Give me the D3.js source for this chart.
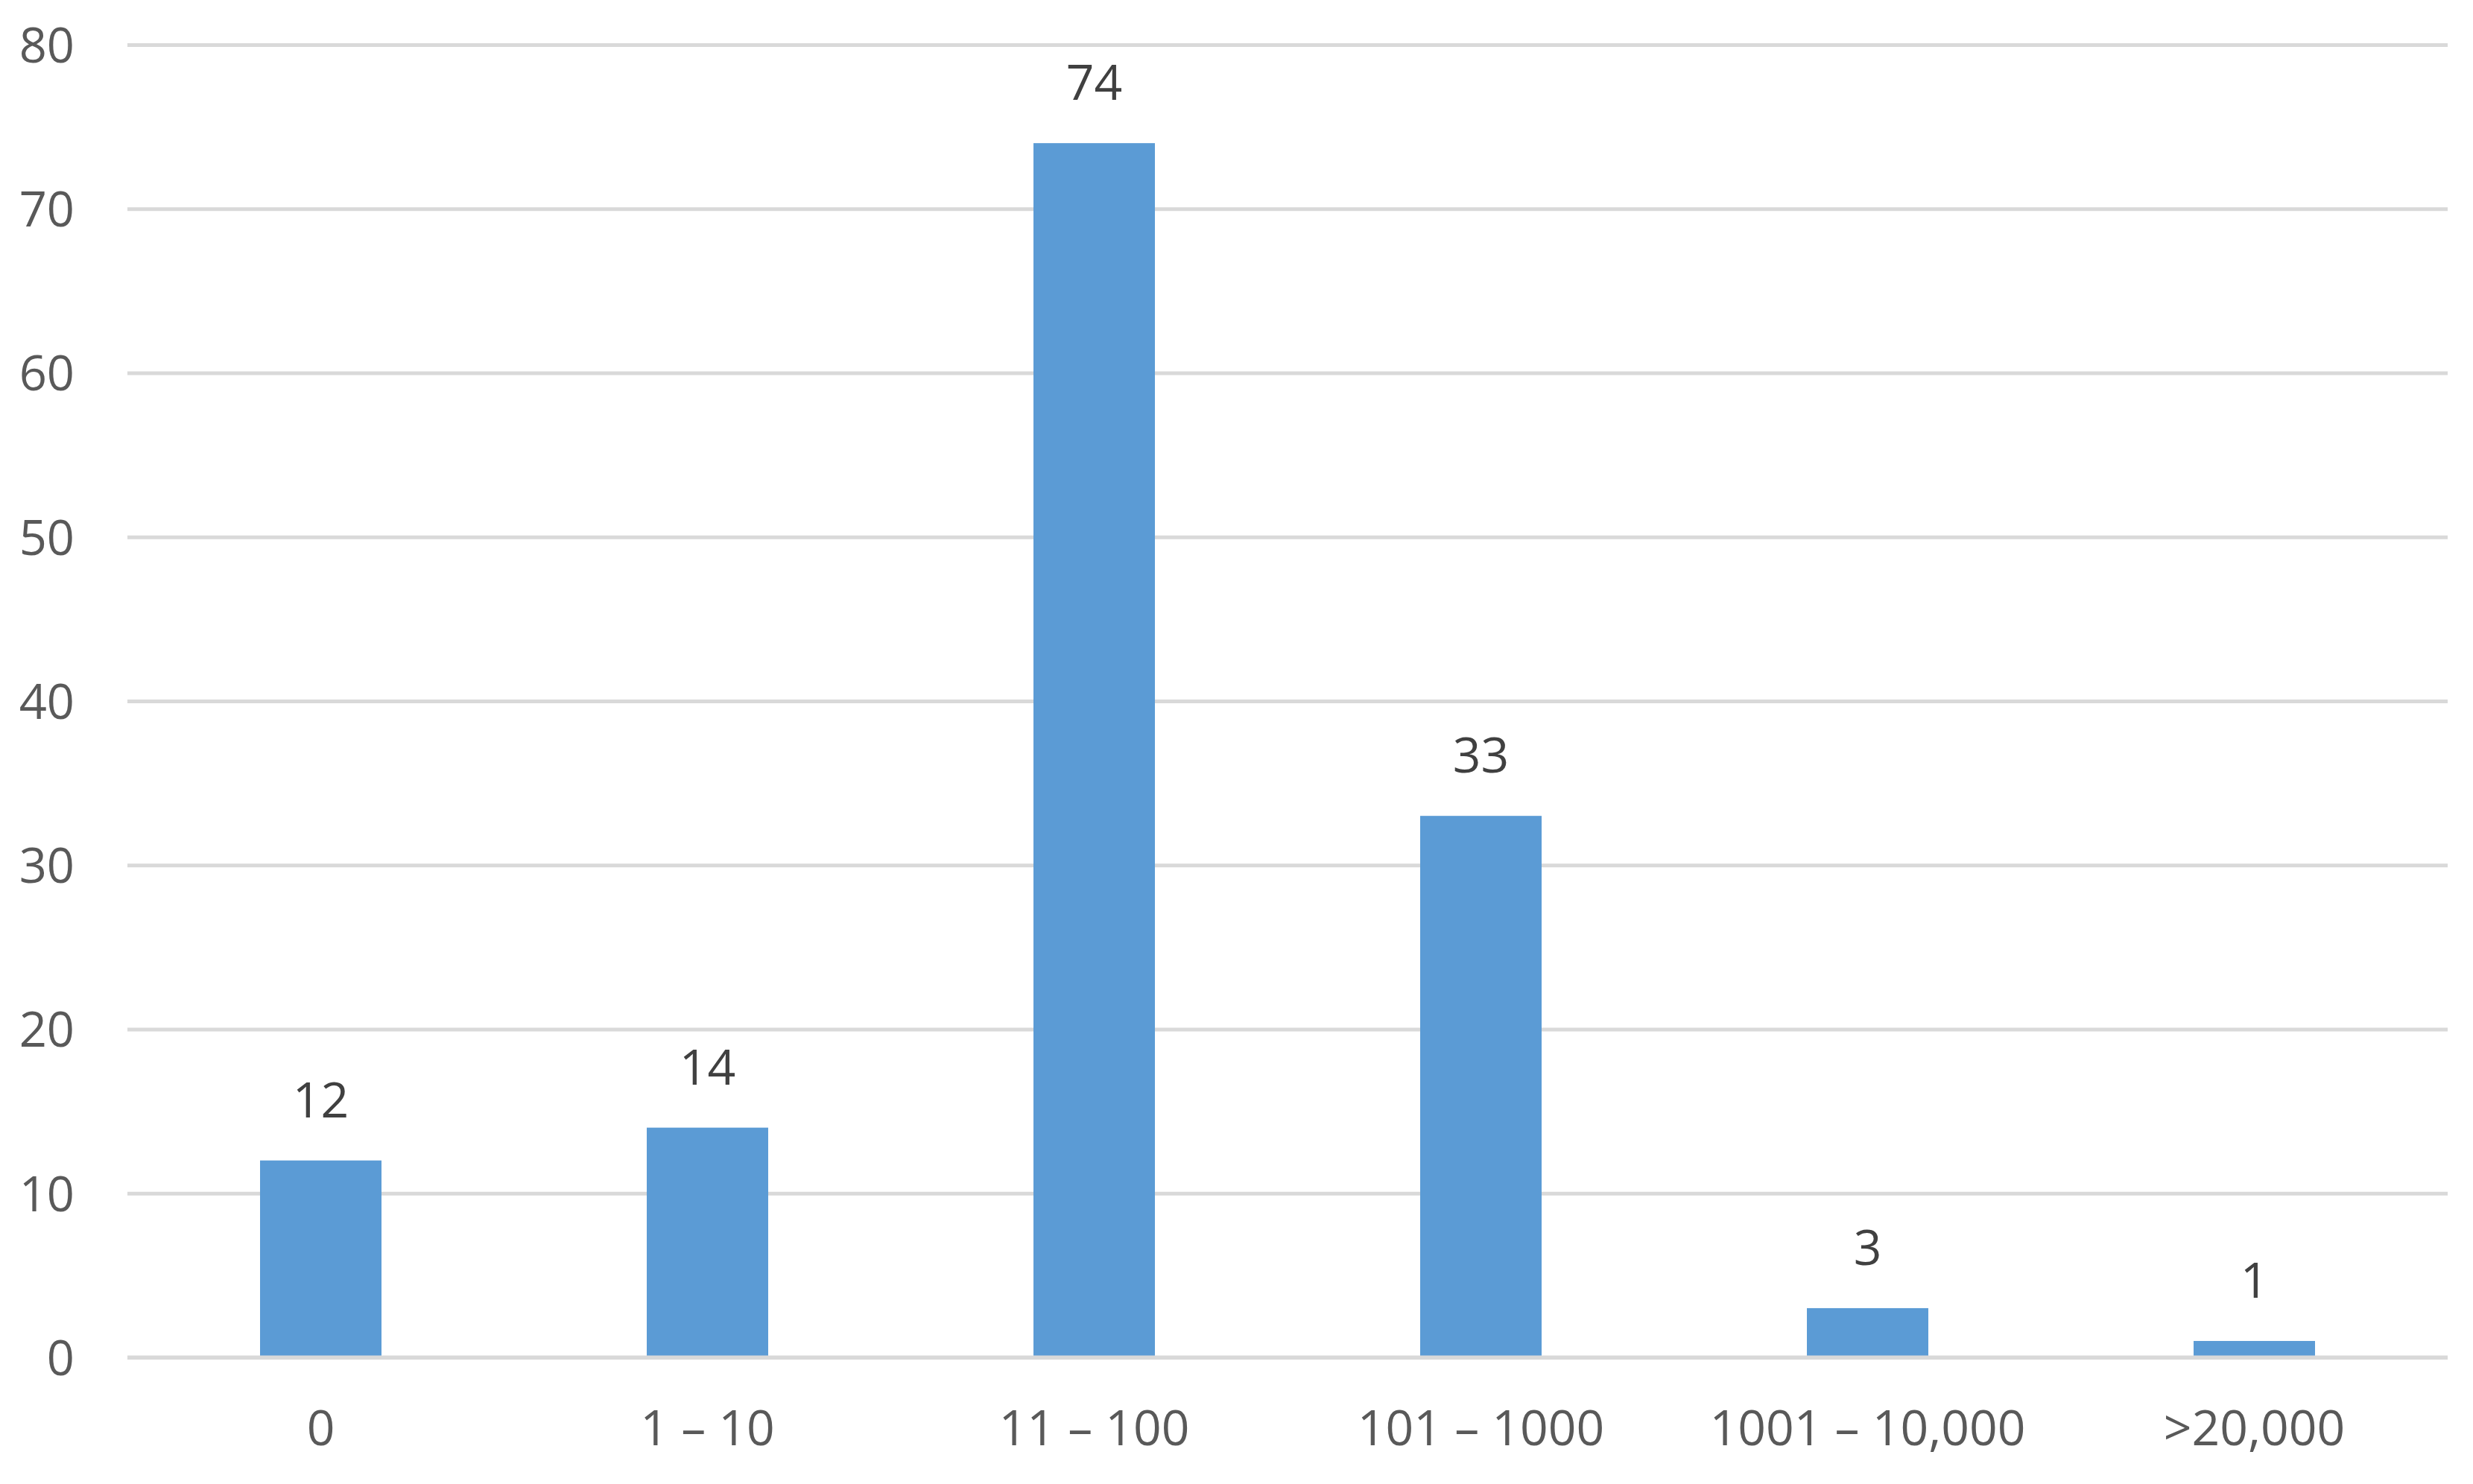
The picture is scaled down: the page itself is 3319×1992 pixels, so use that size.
<!DOCTYPE html>
<html>
<head>
<meta charset="utf-8">
<script src="https://cdn.jsdelivr.net/npm/d3@7"></script>
<style>
  html, body { margin: 0; padding: 0; background: #ffffff; }
  svg { display: block; }
</style>
</head>
<body>
<script>
const categories = ["0", "1 \u2013 10", "11 \u2013 100", "101 \u2013 1000", "1001 \u2013 10,000", ">20,000"];
const values = [12, 14, 74, 33, 3, 1];
const yTicks = [0, 10, 20, 30, 40, 50, 60, 70, 80];

const W = 3319, H = 1992;
const margin = { left: 171, right: W - 3285, top: 60, bottom: H - 1822 };
const font = "'Open Sans', 'Liberation Sans', sans-serif";

const svg = d3.select("body").append("svg")
  .attr("width", W).attr("height", H);

const x = d3.scaleBand()
  .domain(categories)
  .range([margin.left, W - margin.right])
  .paddingInner(0.686)
  .paddingOuter(0.343);

const y = d3.scaleLinear()
  .domain([0, 80])
  .range([H - margin.bottom, margin.top]);

// Gridlines
const yAxis = d3.axisLeft(y).tickValues(yTicks).tickSize(-(W - margin.left - margin.right)).tickPadding(71);
const gy = svg.append("g")
  .attr("transform", `translate(${margin.left},0)`)
  .call(yAxis);
gy.select(".domain").remove();
gy.selectAll(".tick line").attr("stroke", "#d9d9d9").attr("stroke-width", 5);
gy.selectAll(".tick text")
  .attr("fill", "#595959")
  .style("font-family", font)
  .style("font-size", "65px")
  .attr("dy", "0.36em");

// Bars
svg.append("g").selectAll("rect")
  .data(values)
  .join("rect")
  .attr("x", (d, i) => x(categories[i]))
  .attr("width", x.bandwidth())
  .attr("y", d => y(d))
  .attr("height", d => y(0) - y(d))
  .attr("fill", "#5b9bd5");

// Baseline on top
svg.append("line")
  .attr("x1", margin.left).attr("x2", W - margin.right)
  .attr("y1", y(0)).attr("y2", y(0))
  .attr("stroke", "#d9d9d9").attr("stroke-width", 5);

// Data labels
svg.append("g").selectAll("text")
  .data(values)
  .join("text")
  .attr("x", (d, i) => x(categories[i]) + x.bandwidth() / 2)
  .attr("y", d => y(d) - 58)
  .attr("text-anchor", "middle")
  .attr("fill", "#404040")
  .style("font-family", font)
  .style("font-size", "66px")
  .text(d => d);

// X axis labels
const xAxis = d3.axisBottom(x).tickSize(0).tickPadding(0);
const gx = svg.append("g")
  .attr("transform", `translate(0,${y(0)})`)
  .call(xAxis);
gx.select(".domain").remove();
gx.selectAll(".tick text")
  .attr("y", 118)
  .attr("dy", 0)
  .attr("fill", "#595959")
  .style("font-family", font)
  .style("font-size", "66px");
</script>
</body>
</html>
